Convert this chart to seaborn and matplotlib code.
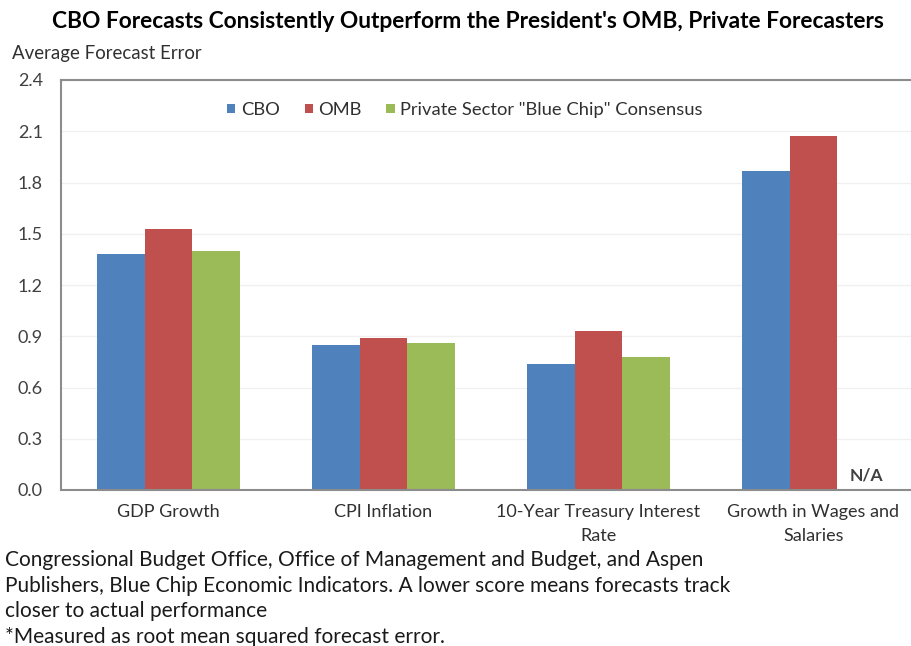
import matplotlib
matplotlib.use("Agg")
import matplotlib.pyplot as plt
import seaborn as sns
import pandas as pd
import numpy as np

categories = ["GDP Growth", "CPI Inflation", "10-Year Treasury Interest\nRate", "Growth in Wages and\nSalaries"]
series = ["CBO", "OMB", 'Private Sector "Blue Chip" Consensus']
cbo = [1.38, 0.85, 0.74, 1.87]
omb = [1.53, 0.89, 0.93, 2.07]
blue_chip = [1.40, 0.86, 0.78, np.nan]
colors = ["#4F81BD", "#C0504D", "#9BBB59"]
yticks = [0.0, 0.3, 0.6, 0.9, 1.2, 1.5, 1.8, 2.1, 2.4]

title = "CBO Forecasts Consistently Outperform the President's OMB, Private Forecasters"
ylabel = "Average Forecast Error"
footnote = ["Congressional Budget Office, Office of Management and Budget, and Aspen",
            "Publishers, Blue Chip Economic Indicators. A lower score means forecasts track",
            "closer to actual performance",
            "*Measured as root mean squared forecast error."]

rows = []
for s, vals in zip(series, [cbo, omb, blue_chip]):
    for c, v in zip(categories, vals):
        rows.append({"category": c, "series": s, "value": v})
df = pd.DataFrame(rows)

sns.set_style("white")
plt.rcParams["font.family"] = ["Lato", "DejaVu Sans"]

W, H = 912, 646
fig = plt.figure(figsize=(W / 100, H / 100), dpi=100)
ax = fig.add_axes([61 / W, (H - 490) / H, 860 / W, 410 / H])

sns.barplot(data=df, x="category", y="value", hue="series", order=categories,
            hue_order=series, palette=colors, width=0.667, saturation=1,
            edgecolor="none", linewidth=0, ax=ax, legend=True)

ax.set_xlim(-0.5, 3.5)
ax.set_ylim(0, 2.4)
ax.set_yticks(yticks)
ax.set_yticklabels([f"{t:.1f}" for t in yticks])
ax.yaxis.grid(True, color="#f0f0f0", linewidth=1)
ax.set_axisbelow(True)
ax.set_xlabel("")
ax.set_ylabel("")

for side in ["left", "bottom", "top"]:
    ax.spines[side].set_visible(True)
    ax.spines[side].set_color("#8c8c8c")
    ax.spines[side].set_linewidth(1.5)
ax.spines["right"].set_visible(False)

ax.tick_params(axis="y", direction="in", length=5, width=1, color="#8c8c8c",
               labelsize=13, labelcolor="#404040", pad=13)
ax.set_xticks(range(len(categories)))
ax.set_xticklabels(categories, fontsize=13, color="#303030", linespacing=1.62)
ax.tick_params(axis="x", which="major", length=0, pad=10)
ax.set_xticks([0.5, 1.5, 2.5], minor=True)
ax.tick_params(axis="x", which="minor", direction="in", length=5, width=1, color="#8c8c8c")

ax.text(3.245, 0.04, "N/A", ha="center", va="bottom", fontsize=12.5,
        fontweight="bold", color="#404040")

handles, labels = ax.get_legend_handles_labels()
ax.legend(handles, labels, ncol=3, loc="center", bbox_to_anchor=(465 / W, 1 - 110 / H),
          bbox_transform=fig.transFigure, frameon=False, fontsize=13.2,
          handlelength=0.45, handleheight=0.45, handletextpad=0.3, columnspacing=1.35,
          labelcolor="#303030")

fig.text(468 / W, 1 - 22 / H, title, ha="center", va="center", fontsize=16.4,
         fontweight="bold", color="#000000")
fig.text(12 / W, 1 - 53 / H, ylabel, ha="left", va="center", fontsize=13.4, color="#303030")
for i, line in enumerate(footnote):
    fig.text(5 / W, 1 - (560 + 25.6 * i) / H, line, ha="left", va="center",
             fontsize=15, color="#1a1a1a")

fig.savefig("out.png", dpi=100)
